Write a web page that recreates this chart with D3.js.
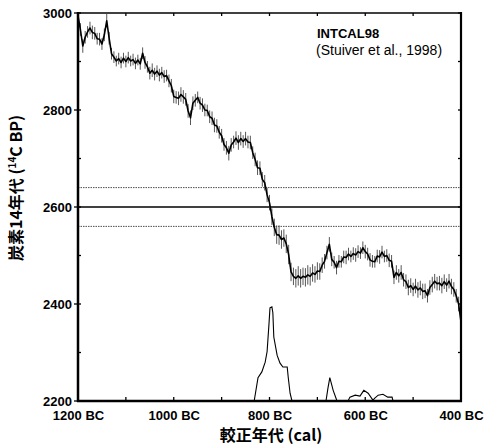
<!DOCTYPE html>
<html>
<head>
<meta charset="utf-8">
<script src="https://cdn.jsdelivr.net/npm/d3@7/dist/d3.min.js"></script>
<style>
  html, body { margin: 0; padding: 0; background: #fff; }
  svg { display: block; }
  text { font-family: "Liberation Sans", Arial, sans-serif; fill: #000; }
</style>
</head>
<body>
<svg id="chart" width="487" height="448"></svg>
<script>
// INTCAL98 radiocarbon calibration curve, 1200–400 cal BC, 5-year grid
const calYears = d3.range(1200, 399, -5);
const c14Age = [
  2994, 2966, 2932, 2950, 2961, 2969, 2960, 2958, 2947, 2946,
  2936, 2955, 2984, 2948, 2916, 2909, 2901, 2906, 2898, 2907,
  2900, 2908, 2901, 2904, 2896, 2903, 2895, 2917, 2898, 2889,
  2876, 2882, 2874, 2880, 2872, 2877, 2869, 2871, 2860, 2850,
  2828, 2826, 2824, 2832, 2827, 2822, 2798, 2784, 2814, 2820,
  2826, 2814, 2810, 2800, 2799, 2786, 2783, 2769, 2767, 2754,
  2747, 2729, 2722, 2711, 2728, 2734, 2742, 2733, 2741, 2735,
  2741, 2734, 2733, 2712, 2698, 2681, 2680, 2657, 2650, 2625,
  2609, 2580, 2558, 2543, 2542, 2533, 2536, 2524, 2502, 2466,
  2457, 2453, 2458, 2453, 2457, 2455, 2460, 2457, 2464, 2461,
  2468, 2467, 2480, 2488, 2506, 2523, 2492, 2486, 2475, 2488,
  2487, 2497, 2496, 2503, 2498, 2504, 2501, 2508, 2505, 2516,
  2508, 2503, 2491, 2488, 2487, 2499, 2497, 2507, 2498, 2500,
  2490, 2488, 2455, 2465, 2458, 2465, 2450, 2446, 2434, 2438,
  2430, 2437, 2429, 2433, 2426, 2427, 2417, 2434, 2440, 2447,
  2442, 2443, 2438, 2446, 2439, 2447, 2436, 2430, 2417, 2400,
  2363
];
const c14Sigma = [
  12, 13, 14, 13, 12, 13, 14, 13, 12, 13,
  12, 13, 14, 13, 12, 12, 11, 12, 12, 11,
  12, 12, 11, 12, 12, 11, 12, 12, 13, 12,
  13, 14, 13, 12, 13, 12, 13, 12, 13, 14,
  14, 13, 14, 15, 14, 13, 14, 15, 14, 13,
  12, 13, 14, 13, 12, 13, 14, 15, 14, 13,
  14, 13, 14, 15, 14, 13, 14, 15, 14, 13,
  14, 13, 14, 13, 14, 15, 14, 15, 16, 15,
  16, 17, 18, 19, 20, 19, 18, 19, 20, 19,
  18, 19, 20, 19, 18, 19, 20, 19, 18, 17,
  18, 17, 16, 15, 14, 15, 14, 13, 14, 13,
  12, 13, 14, 13, 12, 13, 14, 13, 12, 13,
  14, 13, 14, 13, 12, 13, 14, 13, 12, 13,
  14, 13, 14, 15, 14, 15, 14, 15, 16, 15,
  14, 15, 16, 15, 16, 15, 14, 15, 16, 15,
  14, 15, 16, 15, 14, 15, 16, 15, 14, 15,
  16
];

// Measured age 2600 ± 40 BP
const sampleAge = 2600;
const sampleSigma = 40;

// Calibrated probability distribution (relative), drawn along the bottom
const probYears = [
  832, 824, 816, 809, 805, 801, 799, 795, 793, 791, 784, 778, 772, 763, 761, 757, 753,
  682, 678, 674, 667, 659,
  636, 632, 621, 611, 603, 594, 584, 580, 573, 563, 553, 544, 542
];
const probValues = [
  0, 0.24, 0.30, 0.40, 0.51, 0.80, 0.96, 0.97, 0.91, 0.66, 0.47, 0.39, 0.35, 0.35, 0.25, 0.08, 0,
  0, 0.13, 0.24, 0.11, 0,
  0, 0.04, 0.06, 0.05, 0.11, 0.08, 0.01, 0.03, 0.06, 0.07, 0.04, 0.04, 0
];

const xTicks = [1200, 1000, 800, 600, 400];
const xMinor = d3.range(1200, 399, -100);
const yTicks = [2200, 2400, 2600, 2800, 3000];
const yMinor = d3.range(2200, 3001, 100);

const svg = d3.select("#chart");
const L = 78, R = 461, T = 13, B = 401;

const x = d3.scaleLinear().domain([1200, 400]).range([L, R]);
const y = d3.scaleLinear().domain([2200, 3000]).range([B, T]);
const p = d3.scaleLinear().domain([0, 1]).range([B, y(2400)]);

svg.append("rect").attr("width", 487).attr("height", 448).attr("fill", "#fff");

// Reference lines for the measured age and its 1σ range
svg.append("line")
  .attr("x1", L).attr("x2", R)
  .attr("y1", y(sampleAge)).attr("y2", y(sampleAge))
  .attr("stroke", "#000").attr("stroke-width", 1.4);
[sampleAge + sampleSigma, sampleAge - sampleSigma].forEach(v => {
  svg.append("line")
    .attr("x1", L).attr("x2", R)
    .attr("y1", y(v)).attr("y2", y(v))
    .attr("stroke", "#222").attr("stroke-width", 0.8)
    .attr("stroke-dasharray", "1.5,1");
});

// Error bars
const pts = calYears.map((yr, i) => ({ yr, age: c14Age[i], s: c14Sigma[i] }));
svg.append("g")
  .selectAll("line")
  .data(pts)
  .join("line")
  .attr("x1", d => x(d.yr)).attr("x2", d => x(d.yr))
  .attr("y1", d => y(Math.min(3000, d.age + d.s)))
  .attr("y2", d => y(d.age - d.s))
  .attr("stroke", "#444").attr("stroke-width", 0.9);

// Calibration curve
svg.append("path")
  .datum(pts)
  .attr("fill", "none")
  .attr("stroke", "#000")
  .attr("stroke-width", 1.6)
  .attr("stroke-linejoin", "round")
  .attr("d", d3.line().x(d => x(d.yr)).y(d => y(d.age)));

// Probability distribution
const probPts = probYears.map((yr, i) => ({ yr, v: probValues[i] }));
const segments = [probPts.slice(0, 17), probPts.slice(17, 22), probPts.slice(22)];
segments.forEach(seg => {
  svg.append("path")
    .datum(seg)
    .attr("fill", "none")
    .attr("stroke", "#000")
    .attr("stroke-width", 1.1)
    .attr("d", d3.line().x(d => x(d.yr)).y(d => p(d.v)));
});

// Frame
svg.append("line").attr("x1", L).attr("x2", R).attr("y1", T).attr("y2", T)
  .attr("stroke", "#000").attr("stroke-width", 1.5);
svg.append("line").attr("x1", L).attr("x2", L).attr("y1", T - 1).attr("y2", B + 1)
  .attr("stroke", "#000").attr("stroke-width", 2.5);
svg.append("line").attr("x1", R).attr("x2", R).attr("y1", T - 1).attr("y2", B + 1)
  .attr("stroke", "#000").attr("stroke-width", 2.2);
svg.append("line").attr("x1", L - 1).attr("x2", R + 1).attr("y1", B).attr("y2", B)
  .attr("stroke", "#000").attr("stroke-width", 2.5);

// Tick marks: inward on all sides, outward at labelled ages
const tk = svg.append("g").attr("stroke", "#000").attr("stroke-width", 1.3);
xMinor.forEach(v => {
  tk.append("line").attr("x1", x(v)).attr("x2", x(v)).attr("y1", B).attr("y2", B - 4);
  tk.append("line").attr("x1", x(v)).attr("x2", x(v)).attr("y1", T).attr("y2", T + 3);
});
yMinor.forEach(v => {
  tk.append("line").attr("x1", L).attr("x2", L + 3).attr("y1", y(v)).attr("y2", y(v));
  tk.append("line").attr("x1", R).attr("x2", R - 3).attr("y1", y(v)).attr("y2", y(v));
});
yTicks.forEach(v => {
  tk.append("line").attr("x1", L).attr("x2", L - 4).attr("y1", y(v)).attr("y2", y(v));
});

// Axes labels via d3 axis generators (lines hidden, text kept)
const xAxis = svg.append("g")
  .attr("transform", `translate(0,${B})`)
  .call(d3.axisBottom(x).tickValues(xTicks).tickSize(0).tickPadding(10)
    .tickFormat(d => d + " BC"));
xAxis.select(".domain").remove();
xAxis.selectAll("text")
  .attr("font-size", 13).attr("font-weight", "bold")
  .style("font-family", "Liberation Sans, Arial, sans-serif");

const yAxis = svg.append("g")
  .attr("transform", `translate(${L},0)`)
  .call(d3.axisLeft(y).tickValues(yTicks).tickSize(0).tickPadding(6)
    .tickFormat(d3.format("d")));
yAxis.select(".domain").remove();
yAxis.selectAll("text")
  .attr("font-size", 13).attr("font-weight", "bold")
  .style("font-family", "Liberation Sans, Arial, sans-serif");

// Axis titles
svg.append("text")
  .attr("x", 271).attr("y", 441)
  .attr("text-anchor", "middle")
  .attr("font-size", 16).attr("font-weight", "bold")
  .style("font-family", "Noto Sans CJK JP, sans-serif")
  .text("較正年代 (cal)");

const yt = svg.append("text")
  .attr("transform", "translate(22,188) rotate(-90)")
  .attr("text-anchor", "middle")
  .attr("font-size", 16).attr("font-weight", "bold")
  .style("font-family", "Noto Sans CJK JP, sans-serif");
yt.append("tspan").text("炭素14年代 (");
yt.append("tspan").attr("font-size", 10).attr("dy", -6).text("14");
yt.append("tspan").attr("dy", 6).text("C BP)");

// Curve source
svg.append("text")
  .attr("x", 317).attr("y", 38)
  .attr("font-size", 13).attr("font-weight", "bold")
  .text("INTCAL98");
svg.append("text")
  .attr("x", 316).attr("y", 55)
  .attr("font-size", 14)
  .text("(Stuiver et al., 1998)");
</script>
</body>
</html>
